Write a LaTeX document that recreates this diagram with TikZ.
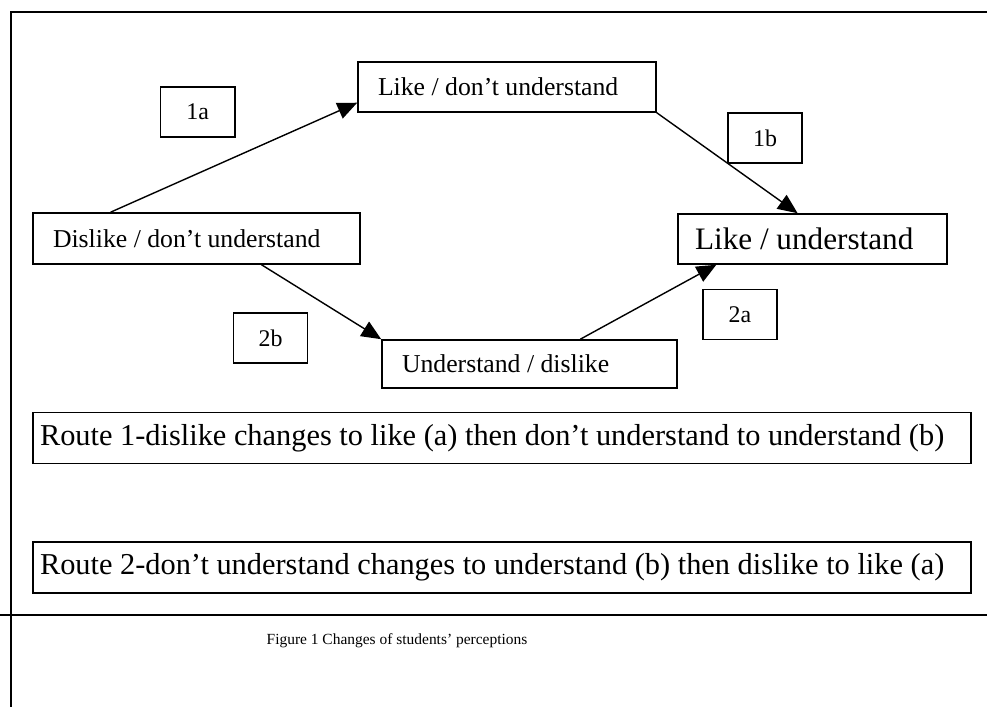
\documentclass[tikz,border=0pt]{standalone}
\usepackage{fontspec}
\setmainfont{Liberation Serif}
\usetikzlibrary{arrows.meta}

\begin{document}
\begin{tikzpicture}[
    statebox/.style={draw=black, line width=1.1pt, rectangle, inner xsep=0.5cm, inner ysep=0pt,
        align=flush left, font=\fontsize{18.3}{20}\selectfont},
    tagbox/.style={draw=black, line width=1.1pt, rectangle, inner sep=0pt,
        minimum width=1.86cm, minimum height=1.25cm, font=\fontsize{17}{20}\selectfont},
    routebox/.style={draw=black, line width=1.1pt, rectangle, inner xsep=0.175cm, inner ysep=0pt,
        text width=23.1cm, align=flush left, minimum height=1.27cm, font=\fontsize{21.6}{24}\selectfont},
    arr/.style={black, line width=1pt, -{Triangle[length=14pt, width=12pt]}}
  ]
    \useasboundingbox (0, 0) rectangle (24.675, 17.675);

    % frame
    \draw[black, line width=1.2pt] (0.275, 0) -- (0.275, 17.375) -- (24.675, 17.375);
    \draw[black, line width=1.2pt] (0, 2.3) -- (24.675, 2.3);

    % the four states
    \node[statebox, text width=7.175cm, minimum height=1.275cm] (dislike) at (4.9125, 11.7125) {Dislike / don't understand};
    \node[statebox, text width=6.45cm, minimum height=1.25cm] (likedont) at (12.675, 15.5) {Like / don't understand};
    \node[statebox, text width=6.375cm, minimum height=1.2cm] (undislike) at (13.2375, 8.575) {Understand / dislike};
    \node[statebox, text width=5.875cm, inner xsep=0.425cm, minimum height=1.25cm,
        font=\fontsize{22.2}{24}\selectfont] (likeund) at (20.3125, 11.7) {Like / understand};

    % route tags
    \node[tagbox] (tag1a) at (4.94, 14.875) {1a};
    \node[tagbox] (tag1b) at (19.125, 14.225) {1b};
    \node[tagbox] (tag2a) at (18.5, 9.8125) {2a};
    \node[tagbox] (tag2b) at (6.7625, 9.225) {2b};

    % arrows
    \draw[arr] (dislike.163) -- (likedont.186);
    \draw[arr] (likedont.south east) -- (likeund.120);
    \draw[arr] (dislike.338.7) -- (undislike.north west);
    \draw[arr] (undislike.26.3) -- (likeund.195.1);

    % routes
    \node[routebox] (route1) at (12.55, 6.725) {Route 1-dislike changes to like (a) then don't understand to understand (b)};
    \node[routebox] (route2) at (12.55, 3.4875) {Route 2-don't understand changes to understand (b) then dislike to like (a)};

    \node[font=\fontsize{11}{13}\selectfont] (caption) at (9.925, 1.65) {Figure 1 Changes of students' perceptions};
\end{tikzpicture}
\end{document}
